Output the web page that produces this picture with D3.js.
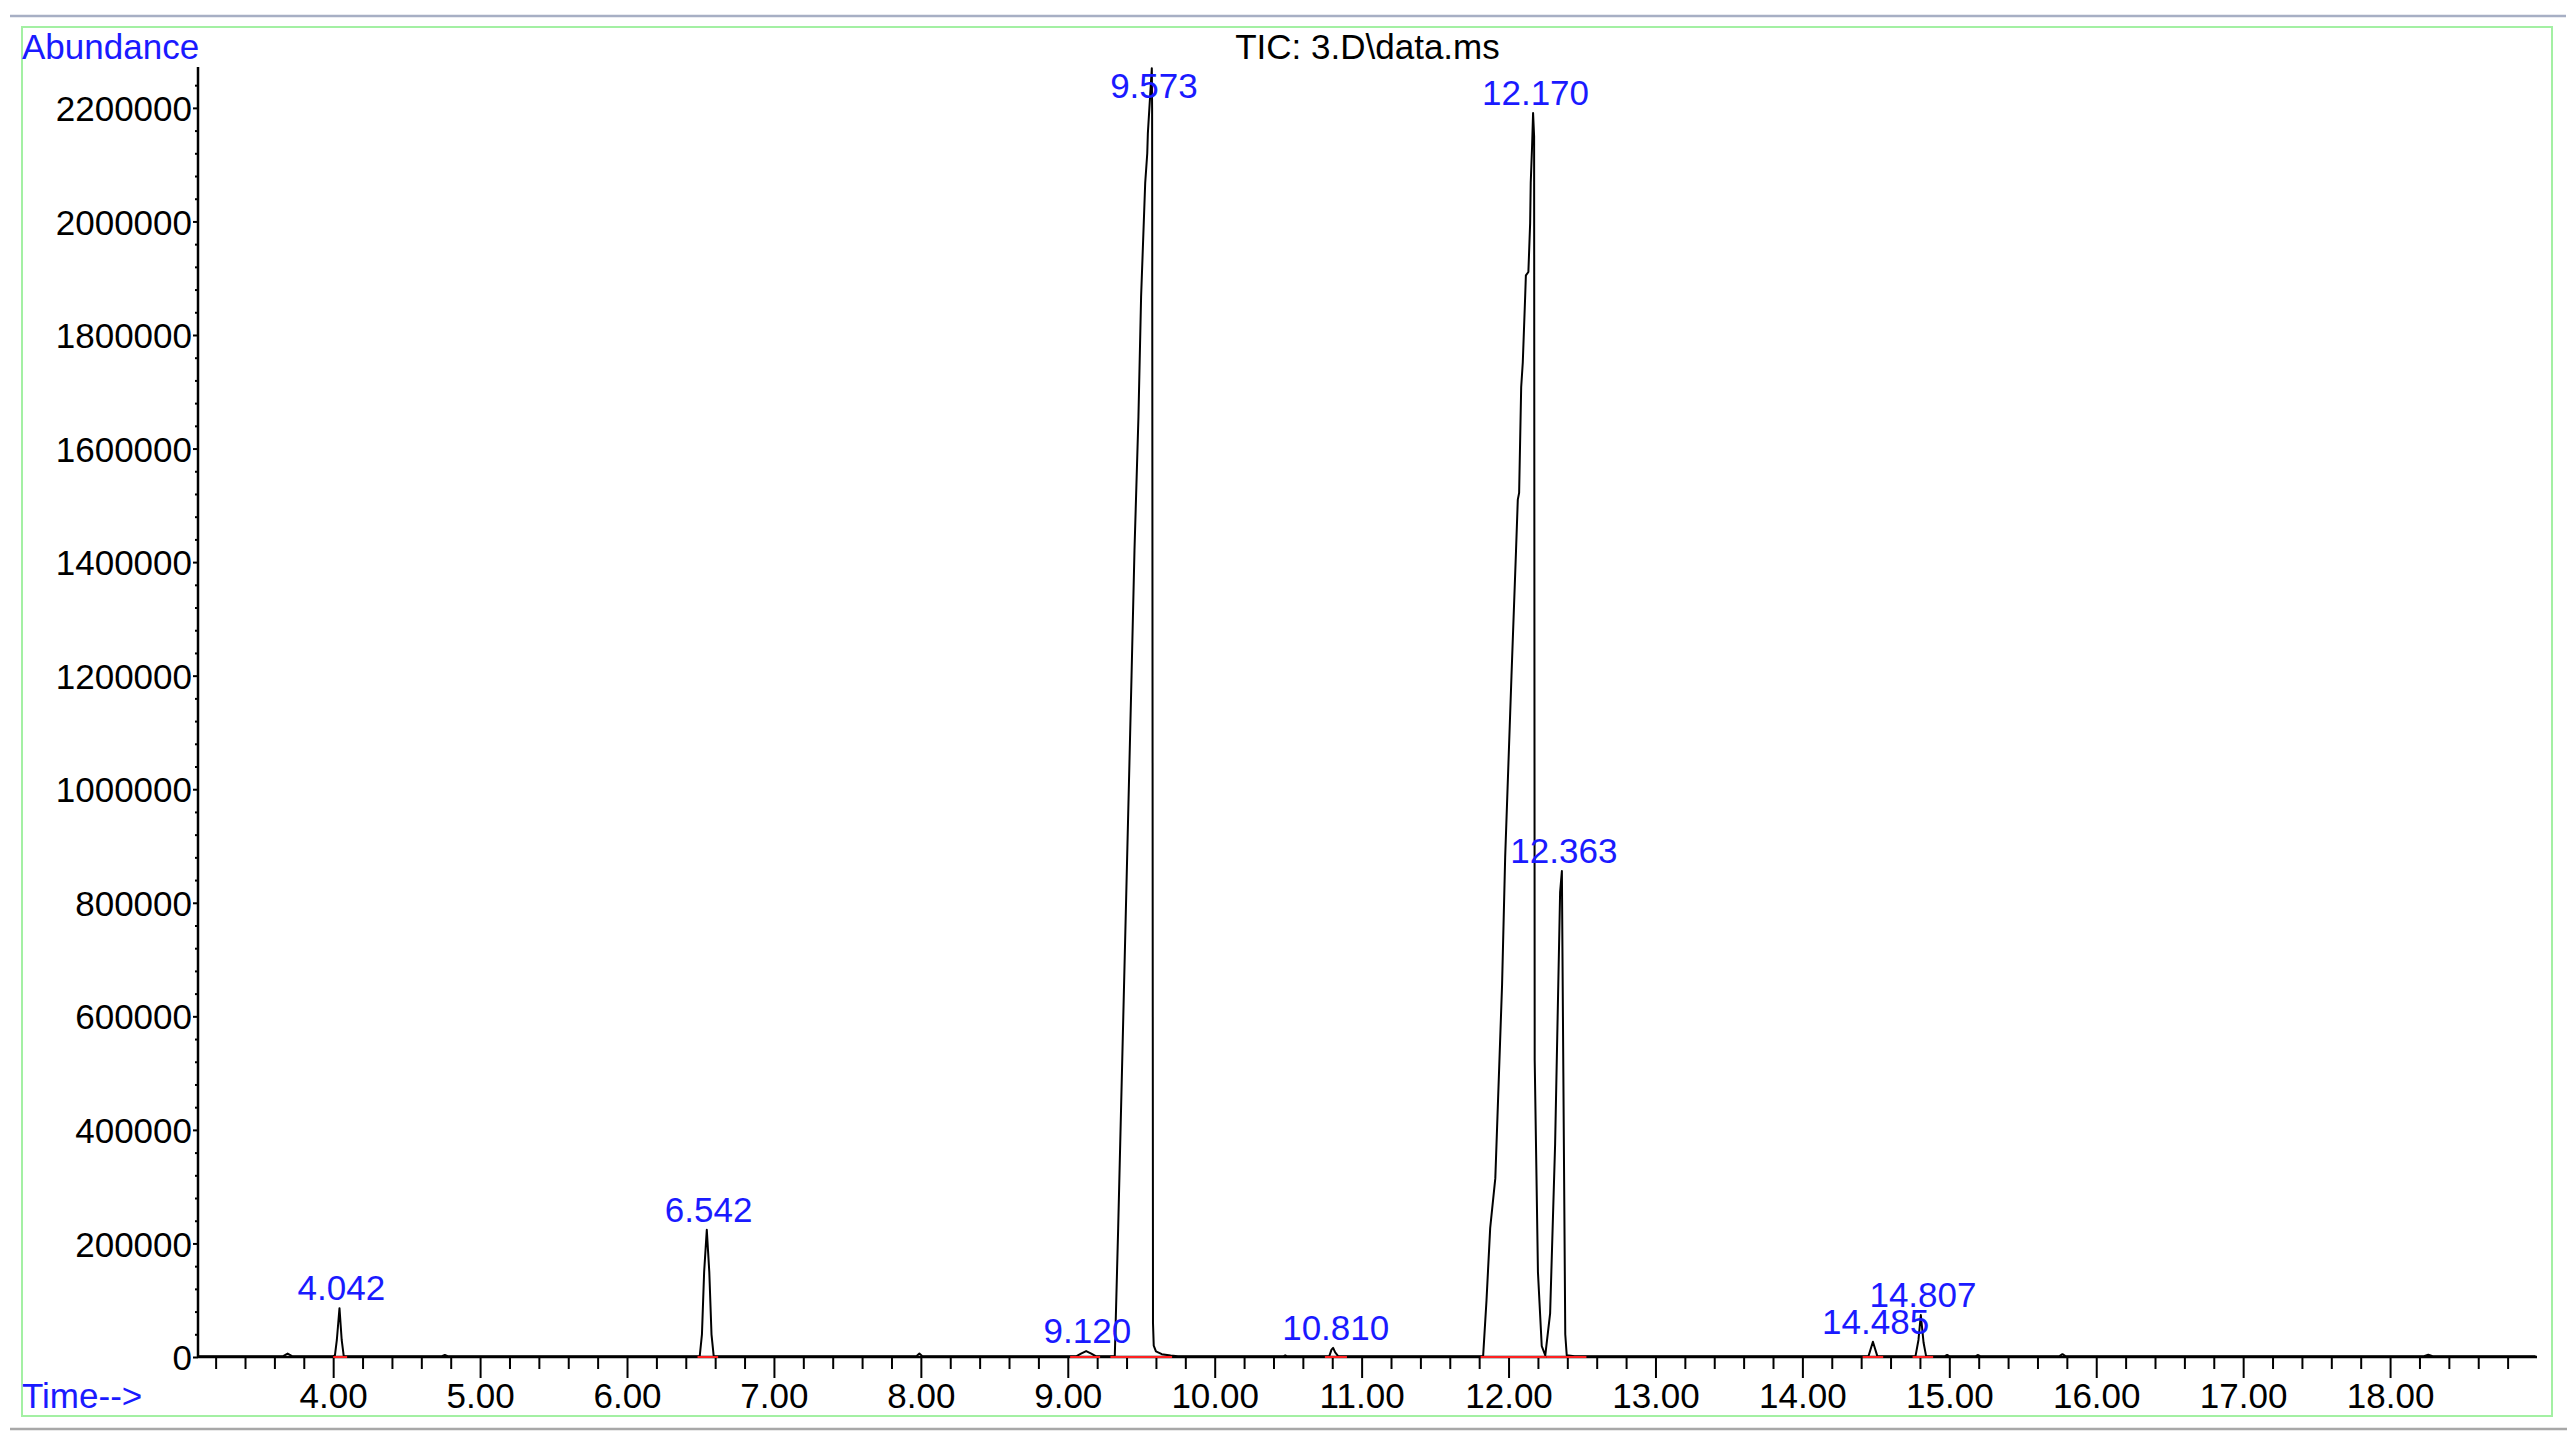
<!DOCTYPE html>
<html>
<head>
<meta charset="utf-8">
<script src="https://cdn.jsdelivr.net/npm/d3@7"></script>
<style>
  html, body { margin: 0; padding: 0; background: #ffffff; }
  svg { display: block; }
  text { font-family: "Liberation Sans", Arial, sans-serif; }
</style>
</head>
<body>
<svg id="chart" width="2574" height="1446"></svg>
<script>
// ---------------- DATA ----------------
const chartTitle = "TIC: 3.D\\data.ms";
const yAxisTitle = "Abundance";
const xAxisTitle = "Time-->";

// retention time (min) of the chromatogram points
const retentionTimes = [
  3.08, 3.66, 3.69, 3.72,
  4.000, 4.012, 4.025, 4.043, 4.058, 4.072,
  4.74, 4.76, 4.78,
  6.495, 6.510, 6.525, 6.543, 6.560, 6.575, 6.590,
  7.97, 7.99, 8.01,
  9.06, 9.09, 9.125, 9.16, 9.19,
  9.320, 9.343, 9.434, 9.454, 9.481, 9.499, 9.527, 9.541, 9.545, 9.572,
  9.574, 9.580, 9.585, 9.600, 9.640, 9.700, 9.750,
  10.47, 10.48, 10.49,
  10.78, 10.795, 10.806, 10.82, 10.84,
  11.827, 11.850, 11.875, 11.910, 11.956, 11.977, 12.020, 12.051, 12.063, 12.072,
  12.086, 12.097, 12.113, 12.118, 12.135, 12.147, 12.151, 12.160, 12.167,
  12.174, 12.178, 12.200, 12.226, 12.250, 12.283, 12.317, 12.351, 12.363,
  12.373, 12.386, 12.396, 12.45,
  14.45, 14.48, 14.51,
  14.77, 14.79, 14.806, 14.825, 14.842,
  14.97, 14.985, 15.00,
  15.18, 15.196, 15.21,
  15.75, 15.77, 15.79,
  18.23, 18.26, 18.29,
  18.99
];

// total ion current abundance at those times
const abundances = [
  1500, 1500, 6000, 1500,
  1500, 3000, 30000, 86000, 30000, 1500,
  1500, 3500, 1500,
  1500, 40000, 150000, 224000, 150000, 40000, 1500,
  1500, 6000, 1500,
  1500, 6000, 10500, 6000, 1500,
  1500, 227000, 1200000, 1421000, 1656000, 1867000, 2068000, 2120000, 2155000, 2270000,
  2200000, 60000, 20000, 10000, 5000, 2500, 1500,
  1500, 3000, 1500,
  1500, 13000, 16000, 8000, 1500,
  1500, 100000, 227000, 315000, 656000, 880000, 1200000, 1421000, 1510000, 1522000,
  1708000, 1752000, 1867000, 1905000, 1911000, 1997000, 2068000, 2131000, 2191000,
  2150000, 523000, 150000, 19000, 3000, 77000, 375000, 819000, 856000,
  500000, 40000, 3000, 1500,
  1500, 27000, 1500,
  1500, 30000, 74000, 25000, 1500,
  1500, 3500, 1500,
  1500, 3500, 1500,
  1500, 5000, 1500,
  1500, 4000, 1500,
  1500
];

// integrated peaks: apex time label, apex abundance
const peakTimes   = [4.042, 6.542, 9.120, 9.573, 10.810, 12.170, 12.363, 14.485, 14.807];
const peakHeights = [86000, 224000, 10500, 2270000, 16000, 2191000, 856000, 27000, 74000];

// integration baselines (red)
const integrationStart = [4.000, 6.480, 9.016, 9.290, 10.750, 11.810, 12.260, 14.410, 14.750];
const integrationEnd   = [4.095, 6.620, 9.220, 9.710, 10.900, 12.260, 12.530, 14.550, 14.890];

// axes
const timeDomain = [3.08, 19.0];
const abundanceDomain = [0, 2272000];
const xMajorTicks = [4, 5, 6, 7, 8, 9, 10, 11, 12, 13, 14, 15, 16, 17, 18];
const yMajorTicks = [0, 200000, 400000, 600000, 800000, 1000000, 1200000, 1400000,
                     1600000, 1800000, 2000000, 2200000];
const xMinorStep = 0.2;
const yMinorStep = 40000;

// ---------------- LAYOUT ----------------
const plot = { left: 198, right: 2537, top: 67, bottom: 1357 };
const fontSize = 35;
const blue = "#1a1aff";

const svg = d3.select("#chart");
svg.append("rect").attr("width", 2574).attr("height", 1446).attr("fill", "#fff");

// window frame
svg.append("line").attr("x1", 10).attr("x2", 2566).attr("y1", 16).attr("y2", 16)
  .attr("stroke", "#a7afc4").attr("stroke-width", 2.5);
svg.append("rect").attr("x", 22).attr("y", 27).attr("width", 2530).attr("height", 1389)
  .attr("fill", "none").attr("stroke", "#a3f0a3").attr("stroke-width", 2);
svg.append("line").attr("x1", 10).attr("x2", 2567).attr("y1", 1429).attr("y2", 1429)
  .attr("stroke", "#a8a8a8").attr("stroke-width", 2.5);

const x = d3.scaleLinear().domain(timeDomain).range([plot.left, plot.right]);
const y = d3.scaleLinear().domain(abundanceDomain).range([plot.bottom, plot.top]);

// minor tick values
const xMinor = d3.range(Math.ceil(timeDomain[0] / xMinorStep) * xMinorStep, timeDomain[1] - 0.05, xMinorStep)
  .filter(v => Math.abs(v - Math.round(v)) > 1e-6);
const yMinor = d3.range(0, abundanceDomain[1], yMinorStep)
  .filter(v => v % 200000 !== 0);

// X axis
const gx = svg.append("g").attr("transform", `translate(0,${plot.bottom})`);
gx.append("g").call(d3.axisBottom(x).tickValues(xMinor).tickSize(12).tickSizeOuter(0).tickFormat(""))
  .call(g => g.select(".domain").remove());
gx.append("g").call(d3.axisBottom(x).tickValues(xMajorTicks).tickSize(21).tickSizeOuter(0)
    .tickFormat(d3.format(".2f")))
  .call(g => g.select(".domain").remove())
  .call(g => g.selectAll("text").attr("y", 51).attr("dy", null)
    .attr("font-size", fontSize).attr("fill", "#000")
    .attr("font-family", '"Liberation Sans", Arial, sans-serif'));
gx.selectAll(".tick line").attr("stroke", "#000").attr("stroke-width", 2);
gx.append("line").attr("x1", plot.left).attr("x2", plot.right)
  .attr("stroke", "#000").attr("stroke-width", 2.5);

// Y axis
const gy = svg.append("g").attr("transform", `translate(${plot.left},0)`);
gy.append("g").call(d3.axisLeft(y).tickValues(yMinor).tickSize(3).tickSizeOuter(0).tickFormat(""))
  .call(g => g.select(".domain").remove());
gy.append("g").call(d3.axisLeft(y).tickValues(yMajorTicks).tickSize(5).tickSizeOuter(0)
    .tickFormat(d3.format("d")))
  .call(g => g.select(".domain").remove())
  .call(g => g.selectAll("text").attr("x", -6).attr("dy", "0.36em")
    .attr("font-size", fontSize).attr("fill", "#000")
    .attr("font-family", '"Liberation Sans", Arial, sans-serif'));
gy.selectAll(".tick line").attr("stroke", "#000").attr("stroke-width", 2);
gy.append("line").attr("y1", plot.top).attr("y2", plot.bottom)
  .attr("stroke", "#000").attr("stroke-width", 2.5);

// chromatogram trace
const points = retentionTimes.map((t, i) => [t, abundances[i]]);
const line = d3.line().x(d => x(d[0])).y(d => y(d[1]));
svg.append("path").datum(points)
  .attr("d", line).attr("fill", "none").attr("stroke", "#000")
  .attr("stroke-width", 2).attr("stroke-linejoin", "round");

// integration baselines
svg.append("g").selectAll("line").data(integrationStart).join("line")
  .attr("x1", d => x(d)).attr("x2", (d, i) => x(integrationEnd[i]))
  .attr("y1", y(0)).attr("y2", y(0))
  .attr("stroke", "#ff2020").attr("stroke-width", 2);

// peak labels
const labelCeiling = y(2200000) - 10;
svg.append("g").selectAll("text").data(peakTimes).join("text")
  .attr("x", d => x(d) + 2)
  .attr("y", (d, i) => Math.max(y(peakHeights[i]) - 8, labelCeiling))
  .attr("text-anchor", "middle").attr("font-size", fontSize).attr("fill", blue)
  .text(d => d3.format(".3f")(d));

// titles
svg.append("text").attr("x", (plot.left + plot.right) / 2).attr("y", 59)
  .attr("text-anchor", "middle").attr("font-size", fontSize).attr("fill", "#000")
  .text(chartTitle);
svg.append("text").attr("x", 22).attr("y", 59)
  .attr("font-size", fontSize).attr("fill", blue).text(yAxisTitle);
svg.append("text").attr("x", 22).attr("y", 1408)
  .attr("font-size", fontSize).attr("fill", blue).text(xAxisTitle);
</script>
</body>
</html>
